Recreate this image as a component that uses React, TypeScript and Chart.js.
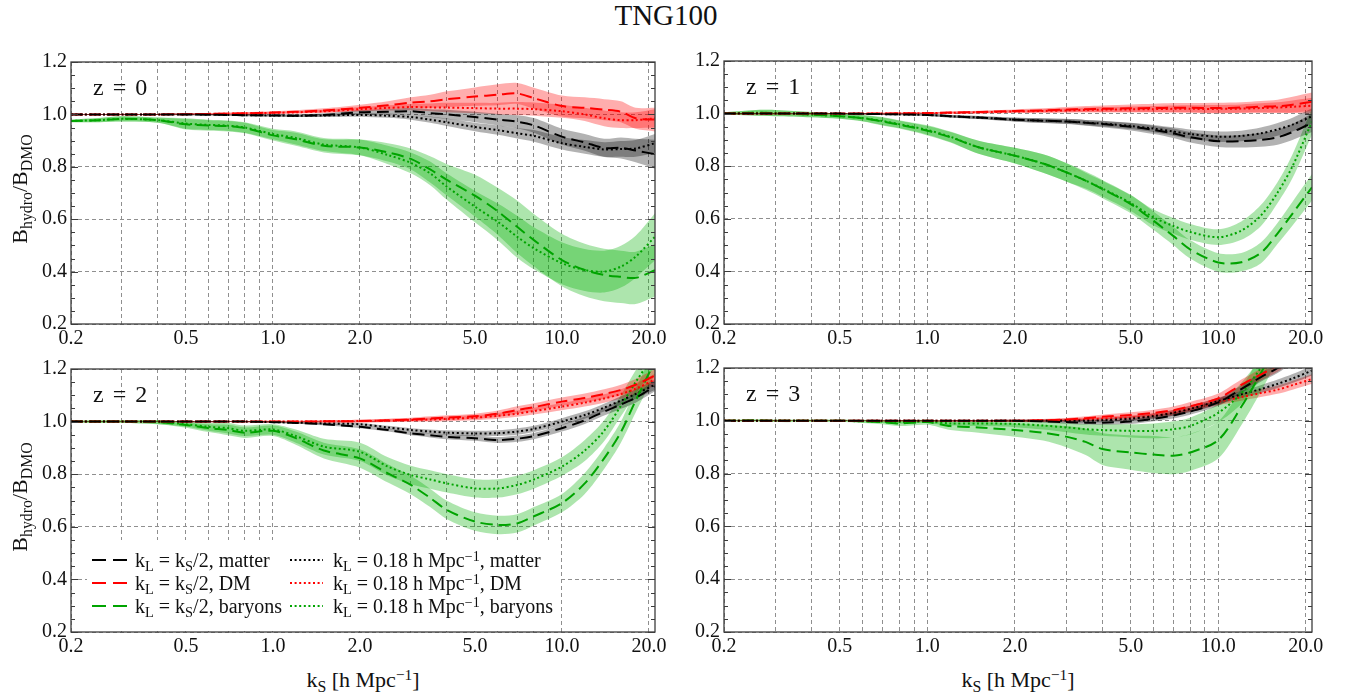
import React, { useEffect, useRef } from "react";
import { Chart, registerables } from "chart.js";

Chart.register(...registerables);

// ---------------- data ----------------
const K = [0.2, 0.25, 0.3, 0.4, 0.5, 0.6, 0.7, 0.8, 1.0, 1.2, 1.5, 2.0, 2.5, 3.0, 3.5, 4.0, 5.0, 6.0, 7.0, 8.0, 10, 12, 14, 16, 18, 21];

const X_GRID = [0.2, 0.3, 0.4, 0.5, 0.6, 0.7, 0.8, 0.9, 1, 2, 3, 4, 5, 6, 7, 8, 9, 10, 20];
const X_LABELED = [0.2, 0.5, 1, 2, 5, 10, 20];
const Y_MIN = 0.2;
const Y_MAX = 1.2;
const X_MIN = 0.2;
const X_MAX = 21;
const PANEL_TITLES = ["0", "1", "2", "3"];

// z = 0
const z0_matter_kS2 = [1.0, 1.0, 1.0, 1.0, 1.0, 0.999, 0.998, 0.997, 0.996, 0.995, 0.998, 1.008, 1.01, 1.012, 1.005, 1.0, 0.99, 0.98, 0.972, 0.958, 0.915, 0.893, 0.872, 0.872, 0.862, 0.848];
const z0_matter_kS2_err = [0.002, 0.002, 0.002, 0.002, 0.003, 0.003, 0.003, 0.004, 0.004, 0.005, 0.006, 0.008, 0.01, 0.012, 0.015, 0.018, 0.02, 0.022, 0.025, 0.028, 0.03, 0.032, 0.035, 0.04, 0.045, 0.055];
const z0_matter_k018 = [1.0, 1.0, 1.0, 1.0, 1.0, 0.999, 0.998, 0.997, 0.996, 0.995, 0.996, 0.998, 0.995, 0.99, 0.98, 0.97, 0.952, 0.94, 0.928, 0.918, 0.89, 0.876, 0.866, 0.868, 0.87, 0.89];
const z0_matter_k018_err = [0.002, 0.002, 0.002, 0.002, 0.003, 0.003, 0.003, 0.004, 0.004, 0.005, 0.006, 0.007, 0.008, 0.01, 0.012, 0.014, 0.016, 0.018, 0.02, 0.022, 0.024, 0.026, 0.028, 0.03, 0.032, 0.035];
const z0_dm_kS2 = [1.0, 1.0, 1.0, 1.0, 1.001, 1.002, 1.003, 1.004, 1.007, 1.01, 1.015, 1.025, 1.035, 1.045, 1.05, 1.058, 1.068, 1.075, 1.08, 1.062, 1.032, 1.025, 1.018, 1.01, 0.985, 0.98];
const z0_dm_kS2_err = [0.002, 0.002, 0.002, 0.002, 0.003, 0.003, 0.004, 0.004, 0.005, 0.006, 0.008, 0.012, 0.015, 0.02, 0.025, 0.03, 0.035, 0.04, 0.04, 0.04, 0.04, 0.04, 0.04, 0.04, 0.04, 0.045];
const z0_dm_k018 = [1.0, 1.0, 1.0, 1.0, 1.001, 1.002, 1.003, 1.004, 1.006, 1.008, 1.012, 1.02, 1.025, 1.028, 1.027, 1.026, 1.024, 1.022, 1.022, 1.02, 1.012, 1.0, 0.985, 0.978, 0.978, 0.985];
const z0_dm_k018_err = [0.002, 0.002, 0.002, 0.002, 0.003, 0.003, 0.003, 0.004, 0.004, 0.005, 0.006, 0.008, 0.01, 0.012, 0.015, 0.018, 0.02, 0.022, 0.025, 0.025, 0.025, 0.025, 0.03, 0.03, 0.03, 0.035];
const z0_bar_kS2 = [0.975, 0.978, 0.983, 0.978, 0.962, 0.958, 0.955, 0.948, 0.92, 0.905, 0.88, 0.874, 0.855, 0.83, 0.79, 0.75, 0.69, 0.63, 0.571, 0.52, 0.444, 0.406, 0.387, 0.38, 0.376, 0.405];
const z0_bar_kS2_err = [0.005, 0.008, 0.01, 0.01, 0.02, 0.02, 0.02, 0.02, 0.02, 0.025, 0.025, 0.03, 0.035, 0.04, 0.05, 0.06, 0.08, 0.09, 0.1, 0.1, 0.1, 0.1, 0.1, 0.1, 0.1, 0.1];
const z0_bar_k018 = [0.975, 0.978, 0.983, 0.978, 0.965, 0.96, 0.957, 0.95, 0.925, 0.91, 0.885, 0.874, 0.845, 0.815, 0.775, 0.724, 0.648, 0.59, 0.533, 0.489, 0.432, 0.406, 0.4, 0.419, 0.457, 0.533];
const z0_bar_k018_err = [0.005, 0.008, 0.01, 0.01, 0.02, 0.02, 0.02, 0.02, 0.02, 0.025, 0.025, 0.03, 0.035, 0.04, 0.045, 0.05, 0.06, 0.07, 0.08, 0.08, 0.08, 0.08, 0.08, 0.08, 0.08, 0.09];

// z = 1
const z1_matter_kS2 = [1.0, 1.0, 1.0, 1.0, 1.0, 0.999, 0.998, 0.997, 0.995, 0.99, 0.985, 0.977, 0.973, 0.97, 0.965, 0.96, 0.95, 0.938, 0.925, 0.91, 0.895, 0.895, 0.9, 0.91, 0.93, 0.965];
const z1_matter_kS2_err = [0.002, 0.002, 0.002, 0.002, 0.002, 0.003, 0.003, 0.003, 0.004, 0.005, 0.006, 0.008, 0.009, 0.01, 0.011, 0.012, 0.014, 0.016, 0.018, 0.02, 0.022, 0.024, 0.026, 0.028, 0.03, 0.035];
const z1_matter_k018 = [1.0, 1.0, 1.0, 1.0, 1.0, 0.999, 0.998, 0.997, 0.995, 0.99, 0.985, 0.977, 0.973, 0.97, 0.966, 0.962, 0.953, 0.943, 0.932, 0.922, 0.912, 0.915, 0.925, 0.94, 0.958, 0.99];
const z1_matter_k018_err = [0.002, 0.002, 0.002, 0.002, 0.002, 0.003, 0.003, 0.003, 0.004, 0.005, 0.006, 0.007, 0.008, 0.009, 0.01, 0.011, 0.012, 0.014, 0.016, 0.018, 0.02, 0.02, 0.022, 0.024, 0.026, 0.03];
const z1_dm_kS2 = [1.0, 1.0, 1.0, 1.0, 1.0, 1.0, 1.0, 1.001, 1.002, 1.004, 1.006, 1.01, 1.012, 1.015, 1.017, 1.018, 1.02, 1.021, 1.022, 1.022, 1.021, 1.023, 1.026, 1.028, 1.034, 1.045];
const z1_dm_kS2_err = [0.002, 0.002, 0.002, 0.002, 0.002, 0.002, 0.003, 0.003, 0.003, 0.004, 0.005, 0.006, 0.008, 0.01, 0.012, 0.013, 0.015, 0.016, 0.018, 0.018, 0.02, 0.02, 0.022, 0.025, 0.03, 0.035];
const z1_dm_k018 = [1.0, 1.0, 1.0, 1.0, 1.0, 1.0, 1.0, 1.001, 1.002, 1.003, 1.005, 1.008, 1.01, 1.012, 1.014, 1.015, 1.016, 1.017, 1.018, 1.018, 1.018, 1.019, 1.021, 1.023, 1.026, 1.03];
const z1_dm_k018_err = [0.002, 0.002, 0.002, 0.002, 0.002, 0.002, 0.003, 0.003, 0.003, 0.004, 0.005, 0.006, 0.007, 0.008, 0.009, 0.01, 0.011, 0.012, 0.013, 0.014, 0.015, 0.016, 0.018, 0.02, 0.024, 0.03];
const z1_bar_kS2 = [1.0, 1.003, 1.002, 0.996, 0.99, 0.982, 0.97, 0.958, 0.935, 0.91, 0.872, 0.84, 0.81, 0.777, 0.745, 0.713, 0.656, 0.592, 0.535, 0.484, 0.434, 0.435, 0.47, 0.545, 0.62, 0.72];
const z1_bar_kS2_err = [0.005, 0.01, 0.012, 0.01, 0.01, 0.012, 0.015, 0.015, 0.018, 0.02, 0.025, 0.03, 0.035, 0.035, 0.035, 0.035, 0.035, 0.035, 0.035, 0.035, 0.035, 0.035, 0.04, 0.04, 0.045, 0.05];
const z1_bar_k018 = [1.0, 1.003, 1.002, 0.996, 0.99, 0.983, 0.972, 0.96, 0.938, 0.912, 0.872, 0.84, 0.81, 0.777, 0.745, 0.715, 0.66, 0.605, 0.573, 0.55, 0.53, 0.555, 0.612, 0.7, 0.8, 0.97];
const z1_bar_k018_err = [0.005, 0.01, 0.012, 0.01, 0.01, 0.012, 0.015, 0.015, 0.018, 0.02, 0.025, 0.03, 0.035, 0.035, 0.03, 0.03, 0.03, 0.03, 0.03, 0.03, 0.03, 0.035, 0.04, 0.04, 0.045, 0.05];

// z = 2
const z2_matter_kS2 = [1, 1, 1, 1, 1, 1, 1, 1, 0.998, 0.995, 0.99, 0.98, 0.968, 0.955, 0.948, 0.942, 0.937, 0.93, 0.935, 0.945, 0.975, 1.005, 1.038, 1.065, 1.09, 1.135];
const z2_matter_kS2_err = [0.001, 0.001, 0.001, 0.001, 0.002, 0.002, 0.002, 0.002, 0.003, 0.003, 0.004, 0.005, 0.006, 0.007, 0.008, 0.009, 0.01, 0.011, 0.012, 0.012, 0.013, 0.014, 0.015, 0.016, 0.018, 0.02];
const z2_matter_k018 = [1, 1, 1, 1, 1, 1, 1, 1, 0.998, 0.996, 0.993, 0.99, 0.978, 0.968, 0.962, 0.958, 0.955, 0.956, 0.962, 0.972, 1.0, 1.025, 1.053, 1.08, 1.105, 1.14];
const z2_matter_k018_err = [0.001, 0.001, 0.001, 0.001, 0.002, 0.002, 0.002, 0.002, 0.003, 0.003, 0.004, 0.005, 0.006, 0.007, 0.008, 0.009, 0.01, 0.011, 0.012, 0.012, 0.013, 0.014, 0.015, 0.016, 0.018, 0.02];
const z2_dm_kS2 = [1, 1, 1, 1, 1, 1, 1, 1, 1, 1, 1.001, 1.002, 1.005, 1.008, 1.012, 1.015, 1.02, 1.03, 1.044, 1.055, 1.076, 1.09, 1.105, 1.12, 1.14, 1.175];
const z2_dm_kS2_err = [0.001, 0.001, 0.001, 0.001, 0.002, 0.002, 0.002, 0.002, 0.003, 0.003, 0.004, 0.005, 0.006, 0.007, 0.008, 0.009, 0.01, 0.012, 0.014, 0.015, 0.016, 0.017, 0.018, 0.02, 0.022, 0.025];
const z2_dm_k018 = [1, 1, 1, 1, 1, 1, 1, 1, 1, 1, 1.001, 1.002, 1.004, 1.006, 1.008, 1.01, 1.015, 1.022, 1.03, 1.04, 1.057, 1.072, 1.088, 1.105, 1.125, 1.16];
const z2_dm_k018_err = [0.001, 0.001, 0.001, 0.001, 0.002, 0.002, 0.002, 0.002, 0.003, 0.003, 0.004, 0.005, 0.006, 0.007, 0.008, 0.009, 0.01, 0.011, 0.012, 0.013, 0.014, 0.015, 0.016, 0.018, 0.02, 0.022];
const z2_bar_kS2 = [1.0, 1.0, 1.0, 0.998, 0.987, 0.975, 0.968, 0.958, 0.965, 0.937, 0.89, 0.86, 0.803, 0.759, 0.71, 0.664, 0.62, 0.607, 0.613, 0.64, 0.69, 0.765, 0.86, 0.96, 1.08, 1.23];
const z2_bar_kS2_err = [0.003, 0.005, 0.005, 0.008, 0.01, 0.015, 0.02, 0.02, 0.02, 0.025, 0.03, 0.035, 0.035, 0.035, 0.035, 0.035, 0.035, 0.035, 0.035, 0.035, 0.035, 0.04, 0.04, 0.04, 0.045, 0.05];
const z2_bar_k018 = [1.0, 1.0, 1.0, 0.998, 0.99, 0.98, 0.975, 0.965, 0.97, 0.945, 0.905, 0.885, 0.829, 0.797, 0.78, 0.765, 0.746, 0.746, 0.759, 0.78, 0.829, 0.89, 0.965, 1.06, 1.15, 1.26];
const z2_bar_k018_err = [0.003, 0.005, 0.005, 0.008, 0.01, 0.015, 0.02, 0.02, 0.02, 0.025, 0.03, 0.035, 0.035, 0.035, 0.035, 0.035, 0.035, 0.035, 0.035, 0.035, 0.035, 0.04, 0.04, 0.04, 0.045, 0.05];

// z = 3
const z3_matter_kS2 = [1, 1, 1, 1, 1, 1, 1, 1, 1, 1, 1, 1, 0.998, 0.995, 0.993, 0.993, 0.997, 1.008, 1.02, 1.035, 1.07, 1.12, 1.165, 1.2, 1.24, 1.3];
const z3_matter_kS2_err = [0.001, 0.001, 0.001, 0.001, 0.001, 0.001, 0.002, 0.002, 0.002, 0.003, 0.003, 0.004, 0.005, 0.006, 0.007, 0.008, 0.009, 0.01, 0.011, 0.012, 0.013, 0.015, 0.017, 0.019, 0.02, 0.022];
const z3_matter_k018 = [1, 1, 1, 1, 1, 1, 1, 1, 1, 1, 1, 1, 1.0, 1.0, 1.0, 1.002, 1.008, 1.018, 1.03, 1.045, 1.075, 1.1, 1.12, 1.14, 1.16, 1.19];
const z3_matter_k018_err = [0.001, 0.001, 0.001, 0.001, 0.001, 0.001, 0.002, 0.002, 0.002, 0.003, 0.003, 0.004, 0.005, 0.006, 0.007, 0.008, 0.009, 0.01, 0.011, 0.012, 0.013, 0.014, 0.015, 0.016, 0.017, 0.018];
const z3_dm_kS2 = [1, 1, 1, 1, 1, 1, 1, 1, 1, 1, 1, 1, 1.002, 1.005, 1.01, 1.015, 1.022, 1.03, 1.04, 1.055, 1.085, 1.136, 1.175, 1.21, 1.25, 1.3];
const z3_dm_kS2_err = [0.001, 0.001, 0.001, 0.001, 0.001, 0.001, 0.002, 0.002, 0.002, 0.003, 0.003, 0.004, 0.005, 0.006, 0.007, 0.008, 0.01, 0.012, 0.014, 0.016, 0.018, 0.02, 0.022, 0.024, 0.026, 0.028];
const z3_dm_k018 = [1, 1, 1, 1, 1, 1, 1, 1, 1, 1, 1, 1, 1.001, 1.003, 1.005, 1.008, 1.012, 1.02, 1.03, 1.045, 1.072, 1.09, 1.105, 1.118, 1.135, 1.158];
const z3_dm_k018_err = [0.001, 0.001, 0.001, 0.001, 0.001, 0.001, 0.002, 0.002, 0.002, 0.003, 0.003, 0.004, 0.005, 0.006, 0.007, 0.008, 0.009, 0.01, 0.011, 0.012, 0.013, 0.014, 0.015, 0.016, 0.017, 0.018];
const z3_bar_kS2 = [1.0, 1.002, 1.0, 1.0, 1.0, 0.998, 0.995, 0.99, 0.995, 0.98, 0.975, 0.965, 0.955, 0.94, 0.92, 0.893, 0.88, 0.872, 0.868, 0.88, 0.927, 1.053, 1.18, 1.3, 1.4, 1.5];
const z3_bar_kS2_err = [0.003, 0.005, 0.005, 0.005, 0.005, 0.006, 0.008, 0.01, 0.01, 0.015, 0.02, 0.025, 0.03, 0.04, 0.05, 0.06, 0.065, 0.07, 0.07, 0.07, 0.07, 0.07, 0.07, 0.07, 0.07, 0.07];
const z3_bar_k018 = [1, 1, 1, 1, 1, 0.998, 0.997, 0.995, 0.997, 0.99, 0.99, 0.988, 0.982, 0.975, 0.968, 0.965, 0.962, 0.962, 0.968, 0.98, 1.03, 1.104, 1.2, 1.3, 1.4, 1.5];
const z3_bar_k018_err = [0.002, 0.003, 0.003, 0.003, 0.003, 0.004, 0.005, 0.006, 0.006, 0.008, 0.01, 0.012, 0.015, 0.018, 0.02, 0.022, 0.025, 0.028, 0.03, 0.032, 0.035, 0.04, 0.04, 0.04, 0.04, 0.04];

// ---------------- styles ----------------
const BLACK = "#000000";
const RED = "#ff0000";
const GREEN = "#00a400";
const BAND_BLACK = "rgba(0,0,0,0.30)";
const BAND_RED = "rgba(255,0,0,0.32)";
const BAND_GREEN = "rgba(0,175,0,0.32)";
const DASH = [12, 6];
const DOT = [2, 2.6];
const FONT = '"Liberation Serif", "Times New Roman", serif';

const PAD_L = 70; // y axis box width
const PAD_R = 22;
const PAD_T = 16;
const PAD_B = 30; // x axis box height

const AREAS = [
  { l: 71, t: 62, r: 655, b: 324 },
  { l: 724, t: 61, r: 1312, b: 324 },
  { l: 71, t: 369, r: 655, b: 632 },
  { l: 724, t: 368, r: 1312, b: 632 },
];

type SeriesDef = { mean: number[]; err: number[]; color: string; band: string; dotted: boolean };

function mk(mean: number[], err: number[], color: string, band: string, dotted: boolean): SeriesDef {
  return { mean, err, color, band, dotted };
}

const PANELS: SeriesDef[][] = [
  [
    mk(z0_matter_kS2, z0_matter_kS2_err, BLACK, BAND_BLACK, false),
    mk(z0_dm_kS2, z0_dm_kS2_err, RED, BAND_RED, false),
    mk(z0_bar_kS2, z0_bar_kS2_err, GREEN, BAND_GREEN, false),
    mk(z0_matter_k018, z0_matter_k018_err, BLACK, BAND_BLACK, true),
    mk(z0_dm_k018, z0_dm_k018_err, RED, BAND_RED, true),
    mk(z0_bar_k018, z0_bar_k018_err, GREEN, BAND_GREEN, true),
  ],
  [
    mk(z1_matter_kS2, z1_matter_kS2_err, BLACK, BAND_BLACK, false),
    mk(z1_dm_kS2, z1_dm_kS2_err, RED, BAND_RED, false),
    mk(z1_bar_kS2, z1_bar_kS2_err, GREEN, BAND_GREEN, false),
    mk(z1_matter_k018, z1_matter_k018_err, BLACK, BAND_BLACK, true),
    mk(z1_dm_k018, z1_dm_k018_err, RED, BAND_RED, true),
    mk(z1_bar_k018, z1_bar_k018_err, GREEN, BAND_GREEN, true),
  ],
  [
    mk(z2_matter_kS2, z2_matter_kS2_err, BLACK, BAND_BLACK, false),
    mk(z2_dm_kS2, z2_dm_kS2_err, RED, BAND_RED, false),
    mk(z2_bar_kS2, z2_bar_kS2_err, GREEN, BAND_GREEN, false),
    mk(z2_matter_k018, z2_matter_k018_err, BLACK, BAND_BLACK, true),
    mk(z2_dm_k018, z2_dm_k018_err, RED, BAND_RED, true),
    mk(z2_bar_k018, z2_bar_k018_err, GREEN, BAND_GREEN, true),
  ],
  [
    mk(z3_matter_kS2, z3_matter_kS2_err, BLACK, BAND_BLACK, false),
    mk(z3_dm_kS2, z3_dm_kS2_err, RED, BAND_RED, false),
    mk(z3_bar_kS2, z3_bar_kS2_err, GREEN, BAND_GREEN, false),
    mk(z3_matter_k018, z3_matter_k018_err, BLACK, BAND_BLACK, true),
    mk(z3_dm_k018, z3_dm_k018_err, RED, BAND_RED, true),
    mk(z3_bar_k018, z3_bar_k018_err, GREEN, BAND_GREEN, true),
  ],
];

function buildDatasets(series: SeriesDef[]) {
  const lines: any[] = series.map((s) => ({
    data: K.map((k, i) => ({ x: k, y: s.mean[i] })),
    borderColor: s.color,
    borderWidth: 2,
    borderDash: s.dotted ? DOT : DASH,
    pointRadius: 0,
    fill: false,
    tension: 0.3,
    order: 0,
  }));
  const bands: any[] = [];
  series.forEach((s) => {
    const lowIndex = series.length + bands.length;
    bands.push({
      data: K.map((k, i) => ({ x: k, y: s.mean[i] - s.err[i] })),
      borderWidth: 0,
      borderColor: "rgba(0,0,0,0)",
      pointRadius: 0,
      fill: false,
      tension: 0.3,
      order: 1,
    });
    bands.push({
      data: K.map((k, i) => ({ x: k, y: s.mean[i] + s.err[i] })),
      borderWidth: 0,
      borderColor: "rgba(0,0,0,0)",
      backgroundColor: s.band,
      pointRadius: 0,
      fill: lowIndex,
      tension: 0.3,
      order: 1,
    });
  });
  return [...lines, ...bands];
}

const framePlugin = {
  id: "frame",
  afterDraw(chart: any) {
    const { ctx, chartArea: a, scales } = chart;
    const y = scales.y;
    ctx.save();
    ctx.strokeStyle = "#3c3c3c";
    ctx.lineWidth = 1.3;
    ctx.setLineDash([]);
    ctx.strokeRect(a.left, a.top, a.right - a.left, a.bottom - a.top);
    ctx.lineWidth = 1;
    for (let i = 0; i <= 20; i++) {
      const v = Y_MIN + i * 0.05;
      const py = Math.round(y.getPixelForValue(v)) + 0.5;
      const len = i % 4 === 0 ? 7 : 4;
      ctx.beginPath();
      ctx.moveTo(a.left, py);
      ctx.lineTo(a.left + len, py);
      ctx.moveTo(a.right - len, py);
      ctx.lineTo(a.right, py);
      ctx.stroke();
    }
    ctx.restore();
  },
};

const LEGEND_ROWS = [191, 214, 237];
const LEGEND_COLORS = [BLACK, RED, GREEN];
const LEGEND_BOX = { l: 16, t: 171, r: 489 };

const legendSamplePlugin = {
  id: "legendSamples",
  afterDraw(chart: any) {
    const { ctx, chartArea: a } = chart;
    ctx.save();
    ctx.fillStyle = "#ffffff";
    ctx.fillRect(a.left + LEGEND_BOX.l, a.top + LEGEND_BOX.t, LEGEND_BOX.r - LEGEND_BOX.l, a.bottom - a.top - LEGEND_BOX.t - 1);
    ctx.lineWidth = 2;
    LEGEND_ROWS.forEach((dy, i) => {
      const yy = a.top + dy;
      ctx.strokeStyle = LEGEND_COLORS[i];
      ctx.setLineDash([14, 7]);
      ctx.beginPath();
      ctx.moveTo(a.left + 21, yy);
      ctx.lineTo(a.left + 56, yy);
      ctx.stroke();
      ctx.setLineDash(DOT);
      ctx.beginPath();
      ctx.moveTo(a.left + 219, yy);
      ctx.lineTo(a.left + 252, yy);
      ctx.stroke();
    });
    ctx.restore();
  },
};

function fmtX(v: number) {
  const hit = X_LABELED.find((t) => Math.abs(t - v) < 1e-9);
  return hit === undefined ? "" : hit.toFixed(1);
}

function Panel({ idx }: { idx: number }) {
  const ref = useRef<HTMLCanvasElement>(null);
  const area = AREAS[idx];
  const W = area.r - area.l + PAD_L + PAD_R;
  const H = area.b - area.t + PAD_T + PAD_B;

  useEffect(() => {
    const tickFont = { family: FONT, size: 20 };
    const plugins: any[] = [framePlugin];
    if (idx === 2) plugins.push(legendSamplePlugin);
    const chart = new Chart(ref.current as HTMLCanvasElement, {
      type: "line",
      data: { datasets: buildDatasets(PANELS[idx]) },
      plugins,
      options: {
        animation: false,
        responsive: false,
        maintainAspectRatio: false,
        events: [],
        layout: { padding: { left: 0, right: PAD_R, top: PAD_T, bottom: 0 } },
        plugins: { legend: { display: false }, tooltip: { enabled: false } },
        scales: {
          x: {
            type: "logarithmic",
            min: X_MIN,
            max: X_MAX,
            afterBuildTicks: (s: any) => {
              s.ticks = X_GRID.map((v) => ({ value: v }));
            },
            afterFit: (s: any) => {
              s.height = PAD_B;
            },
            ticks: {
              autoSkip: false,
              maxRotation: 0,
              minRotation: 0,
              padding: 3,
              color: "#111",
              font: tickFont,
              callback: (v: any) => fmtX(Number(v)),
            },
            grid: { color: "#8f8f8f", lineWidth: 1, drawTicks: false },
            border: { display: false, dash: [4, 3] },
          },
          y: {
            type: "linear",
            min: Y_MIN,
            max: Y_MAX,
            afterFit: (s: any) => {
              s.width = PAD_L;
            },
            ticks: {
              stepSize: 0.2,
              padding: 4,
              color: "#111",
              font: tickFont,
              callback: (v: any) => Number(v).toFixed(1),
            },
            grid: { color: "#8f8f8f", lineWidth: 1, drawTicks: false },
            border: { display: false, dash: [4, 3] },
          },
        },
      } as any,
    });
    return () => chart.destroy();
  }, [idx]);

  return (
    <canvas
      ref={ref}
      width={W}
      height={H}
      style={{ position: "absolute", left: area.l - PAD_L, top: area.t - PAD_T, width: W, height: H }}
    />
  );
}

const Sub = ({ children }: { children: React.ReactNode }) => (
  <sub style={{ fontSize: "72%", verticalAlign: "-0.3em", lineHeight: 0 }}>{children}</sub>
);
const Sup = ({ children }: { children: React.ReactNode }) => (
  <sup style={{ fontSize: "70%", verticalAlign: "0.45em", lineHeight: 0 }}>{children}</sup>
);

const LEGEND_COL1 = ["matter", "DM", "baryons"];

export default function App() {
  useEffect(() => {
    document.body.style.margin = "0";
  }, []);
  const abs = (extra: React.CSSProperties): React.CSSProperties => ({
    position: "absolute",
    whiteSpace: "nowrap",
    lineHeight: 1,
    ...extra,
  });
  return (
    <div
      style={{
        position: "fixed",
        left: 0,
        top: 0,
        width: 1352,
        height: 696,
        background: "#ffffff",
        fontFamily: FONT,
        color: "#111",
        overflow: "hidden",
      }}
    >
      {AREAS.map((_, i) => (
        <Panel key={i} idx={i} />
      ))}

      <div style={abs({ left: 666, top: 15, fontSize: 29, transform: "translate(-50%,-50%)" })}>TNG100</div>

      {AREAS.map((a, i) => (
        <div key={"z" + i} style={abs({ left: a.l + 22, top: a.t + 25, fontSize: 24, transform: "translateY(-50%)", wordSpacing: 3 })}>
          z = {PANEL_TITLES[i]}
        </div>
      ))}

      {[AREAS[0], AREAS[2]].map((a, i) => (
        <div
          key={"yl" + i}
          style={abs({
            left: 20,
            top: (a.t + a.b) / 2 - 4,
            fontSize: 22,
            transform: "translate(-50%,-50%) rotate(-90deg)",
          })}
        >
          B<Sub>hydro</Sub>/B<Sub>DMO</Sub>
        </div>
      ))}

      {[AREAS[2], AREAS[3]].map((a, i) => (
        <div key={"xl" + i} style={abs({ left: (a.l + a.r) / 2, top: 680, fontSize: 22, transform: "translate(-50%,-50%)" })}>
          k<Sub>S</Sub> [h Mpc<Sup>−1</Sup>]
        </div>
      ))}

      {LEGEND_ROWS.map((dy, i) => (
        <React.Fragment key={"lg" + i}>
          <div style={abs({ left: AREAS[2].l + 64, top: AREAS[2].t + dy, fontSize: 20, transform: "translateY(-50%)" })}>
            k<Sub>L</Sub> = k<Sub>S</Sub>/2, {LEGEND_COL1[i]}
          </div>
          <div style={abs({ left: AREAS[2].l + 262, top: AREAS[2].t + dy, fontSize: 20, transform: "translateY(-50%)" })}>
            k<Sub>L</Sub> = 0.18 h Mpc<Sup>−1</Sup>, {LEGEND_COL1[i]}
          </div>
        </React.Fragment>
      ))}
    </div>
  );
}
